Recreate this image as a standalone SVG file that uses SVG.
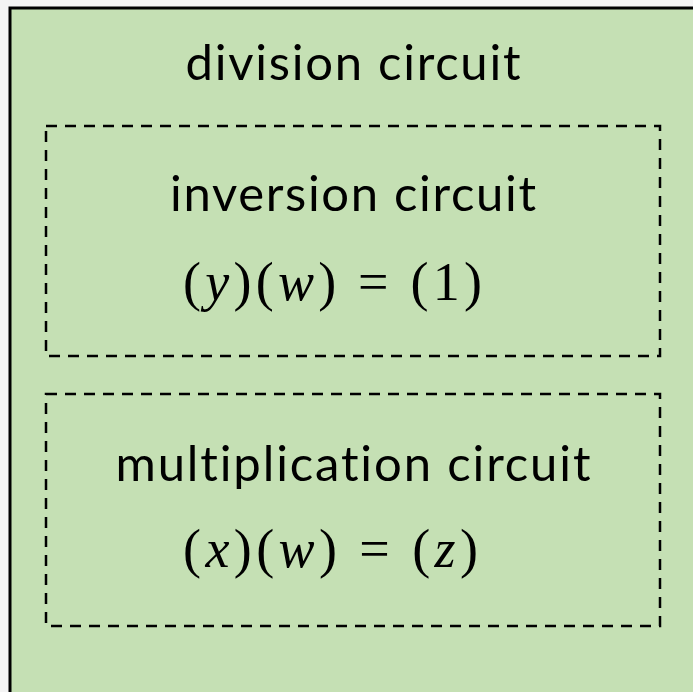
<svg xmlns="http://www.w3.org/2000/svg" width="693" height="692" viewBox="0 0 693 692">
<style>
.lbl{font-family:Lato,"Noto Sans",sans-serif;font-size:49px;fill:#000;text-anchor:middle;font-variant-ligatures:none}
.math{font-family:"Liberation Serif",serif;font-size:54px;fill:#000}
.it{font-style:italic}
.dash{fill:none;stroke:#000;stroke-width:2.5;stroke-dasharray:11 8}
</style>
<rect x="0" y="0" width="693" height="692" fill="#f4f4f4"/>
<g id="division">
<rect x="10" y="8" width="700" height="700" fill="#c5e0b4" stroke="#000" stroke-width="3"/>
<text class="lbl" x="353" y="80" textLength="335">division circuit</text>
</g>
<g id="inversion">
<rect class="dash" x="46" y="126" width="614" height="230"/>
<text class="lbl" x="353" y="211" textLength="366">inversion circuit</text>
<text class="math" x="183" y="300" textLength="299" lengthAdjust="spacing">(<tspan class="it">y</tspan>)(<tspan class="it">w</tspan>) = (1)</text>
</g>
<g id="multiplication">
<rect class="dash" x="46" y="394" width="614" height="232"/>
<text class="lbl" x="353" y="481" textLength="475">multiplication circuit</text>
<text class="math" x="183" y="567" textLength="295" lengthAdjust="spacing">(<tspan class="it">x</tspan>)(<tspan class="it">w</tspan>) = (<tspan class="it">z</tspan>)</text>
</g>
<g id="connectors"/>
</svg>
